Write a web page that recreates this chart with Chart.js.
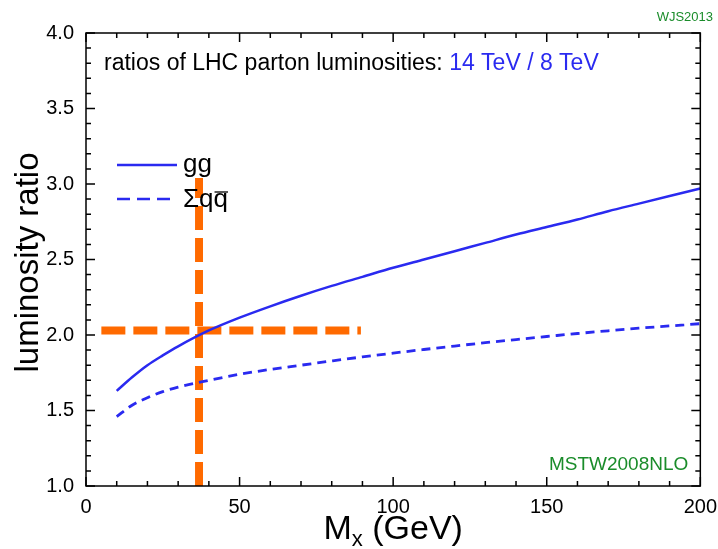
<!DOCTYPE html>
<html>
<head>
<meta charset="utf-8">
<title>LHC parton luminosity ratios</title>
<script src="https://cdn.jsdelivr.net/npm/chart.js@4"></script>
<style>
  html, body { margin: 0; padding: 0; background: #fff; }
  #wrap { width: 718px; height: 549px; }
</style>
</head>
<body>
<div id="wrap"><canvas id="lumiChart" width="718" height="549"></canvas></div>
<script>
const massGeV = [10, 15, 20, 25, 30, 40, 50, 60, 70, 80, 90, 100, 110, 120, 130, 140, 150, 160, 170, 180, 190, 200];
// gg luminosity ratio 14 TeV / 8 TeV
const ggRatio = [1.63, 1.72, 1.80, 1.865, 1.925, 2.03, 2.115, 2.19, 2.26, 2.325, 2.385, 2.445, 2.50, 2.555, 2.61, 2.665, 2.715, 2.765, 2.82, 2.87, 2.92, 2.97];
// sum of q-qbar luminosity ratio 14 TeV / 8 TeV
const qqRatio = [1.46, 1.535, 1.585, 1.625, 1.655, 1.70, 1.74, 1.772, 1.80, 1.828, 1.855, 1.88, 1.904, 1.927, 1.949, 1.97, 1.99, 2.01, 2.028, 2.045, 2.06, 2.075];

// orange guide lines (vertical at M_x ~ 37 GeV, horizontal at ratio ~ 2.03)
const guideVertX = [36.8, 36.8];
const guideVertY = [1.0, 3.04];
const guideHorzX = [5, 89.5];
const guideHorzY = [2.03, 2.03];

const xTicks = [0, 50, 100, 150, 200];
const yTicks = [1.0, 1.5, 2.0, 2.5, 3.0, 3.5, 4.0];

const FONT = '"Liberation Sans", Arial, Helvetica, sans-serif';
const BLUE = '#2a2af0';
const ORANGE = '#ff6a00';
const GREEN = '#1a8c2a';

function toPoints(xs, ys) {
    return xs.map(function(x, i) { return { x: x, y: ys[i] }; });
}

// Frame, inward ticks, legend, labels
const decorations = {
    id: 'decorations',
    afterDraw(chart) {
        const ctx = chart.ctx;
        const area = chart.chartArea;
        const xs = chart.scales.x;
        const ys = chart.scales.y;

        ctx.save();
        ctx.strokeStyle = '#000';
        ctx.lineWidth = 1.5;
        ctx.strokeRect(area.left, area.top, area.right - area.left, area.bottom - area.top);

        // ticks on all four sides pointing inward
        ctx.beginPath();
        for (let v = 0; v <= 200; v += 10) {
            const px = xs.getPixelForValue(v);
            const len = (v % 50 === 0) ? 9 : 5;
            ctx.moveTo(px, area.bottom); ctx.lineTo(px, area.bottom - len);
            ctx.moveTo(px, area.top); ctx.lineTo(px, area.top + len);
        }
        for (let k = 10; k <= 40; k++) {
            const py = ys.getPixelForValue(k / 10);
            const len = (k % 5 === 0) ? 9 : 5;
            ctx.moveTo(area.left, py); ctx.lineTo(area.left + len, py);
            ctx.moveTo(area.right, py); ctx.lineTo(area.right - len, py);
        }
        ctx.stroke();

        // title inside plot
        ctx.textBaseline = 'alphabetic';
        ctx.textAlign = 'left';
        ctx.font = '23px ' + FONT;
        const titleA = 'ratios of LHC parton luminosities: ';
        const tx = area.left + 18;
        const ty = 70;
        ctx.fillStyle = '#000';
        ctx.fillText(titleA, tx, ty);
        ctx.fillStyle = BLUE;
        ctx.fillText('14 TeV / 8 TeV', tx + ctx.measureText(titleA).width, ty);

        // legend
        const lx0 = area.left + 31;
        const lx1 = area.left + 91;
        const row1 = 165;
        const row2 = 199;
        ctx.strokeStyle = BLUE;
        ctx.lineWidth = 2.5;
        ctx.beginPath();
        ctx.moveTo(lx0, row1); ctx.lineTo(lx1, row1);
        ctx.stroke();
        ctx.setLineDash([13, 7]);
        ctx.beginPath();
        ctx.moveTo(lx0, row2); ctx.lineTo(lx1, row2);
        ctx.stroke();
        ctx.setLineDash([]);

        ctx.fillStyle = '#000';
        ctx.font = '26px ' + FONT;
        const ltx = lx1 + 6;
        ctx.fillText('gg', ltx, row1 + 7);
        const s1 = 'Σq';
        ctx.fillText(s1 + 'q', ltx, row2 + 8);
        const qStart = ltx + ctx.measureText(s1).width;
        const qW = ctx.measureText('q').width;
        ctx.strokeStyle = '#000';
        ctx.lineWidth = 1.3;
        ctx.beginPath();
        ctx.moveTo(qStart + 1, row2 - 7);
        ctx.lineTo(qStart + qW, row2 - 7);
        ctx.stroke();

        // small green labels
        ctx.fillStyle = GREEN;
        ctx.font = '13px ' + FONT;
        ctx.textAlign = 'right';
        ctx.fillText('WJS2013', 713, 21);
        ctx.font = '19px ' + FONT;
        ctx.fillText('MSTW2008NLO', area.right - 12, ys.getPixelForValue(1.15) + 7);

        // axis titles
        ctx.fillStyle = '#000';
        ctx.font = '33px ' + FONT;
        ctx.textAlign = 'center';
        ctx.save();
        ctx.translate(38, (area.top + area.bottom) / 2 + 3);
        ctx.rotate(-Math.PI / 2);
        ctx.fillText('luminosity ratio', 0, 0);
        ctx.restore();

        const xm = 'M';
        const xrest = ' (GeV)';
        ctx.font = '34px ' + FONT;
        const wM = ctx.measureText(xm).width;
        const wR = ctx.measureText(xrest).width;
        ctx.font = '22px ' + FONT;
        const wSub = ctx.measureText('x').width;
        const total = wM + wSub + wR;
        let cx = (area.left + area.right) / 2 - total / 2;
        const by = 539;
        ctx.textAlign = 'left';
        ctx.font = '34px ' + FONT;
        ctx.fillText(xm, cx, by);
        cx += wM;
        ctx.font = '22px ' + FONT;
        ctx.fillText('x', cx, by + 7);
        cx += wSub;
        ctx.font = '34px ' + FONT;
        ctx.fillText(xrest, cx, by);
        ctx.restore();
    }
};

const ctx = document.getElementById('lumiChart').getContext('2d');
const lumiChart = new Chart(ctx, {
    type: 'scatter',
    data: {
        datasets: [
            {
                label: 'gg',
                data: toPoints(massGeV, ggRatio),
                showLine: true,
                borderColor: BLUE,
                borderWidth: 2.5,
                pointRadius: 0,
                cubicInterpolationMode: 'monotone',
                order: 0
            },
            {
                label: 'qqbar',
                data: toPoints(massGeV, qqRatio),
                showLine: true,
                borderColor: BLUE,
                borderWidth: 2.8,
                borderDash: [9, 6],
                pointRadius: 0,
                cubicInterpolationMode: 'monotone',
                order: 0
            },
            {
                label: 'guide vertical',
                data: toPoints(guideVertX, guideVertY),
                showLine: true,
                borderColor: ORANGE,
                borderWidth: 8,
                borderDash: [24, 8],
                borderCapStyle: 'butt',
                pointRadius: 0,
                order: 1
            },
            {
                label: 'guide horizontal',
                data: toPoints(guideHorzX, guideHorzY),
                showLine: true,
                borderColor: ORANGE,
                borderWidth: 8,
                borderDash: [24, 8],
                borderCapStyle: 'butt',
                pointRadius: 0,
                order: 1
            }
        ]
    },
    options: {
        responsive: false,
        animation: false,
        layout: { autoPadding: false, padding: { top: 33, right: 16, left: 0, bottom: 0 } },
        plugins: {
            legend: { display: false },
            tooltip: { enabled: false }
        },
        scales: {
            x: {
                type: 'linear',
                min: 0,
                max: 200,
                afterFit: function(scale) { scale.height = 63; },
                afterBuildTicks: function(scale) {
                    scale.ticks = xTicks.map(function(v) { return { value: v }; });
                },
                grid: { display: false },
                border: { display: false },
                ticks: {
                    color: '#000',
                    padding: 1,
                    maxRotation: 0,
                    font: { family: FONT, size: 20 }
                }
            },
            y: {
                type: 'linear',
                min: 1,
                max: 4,
                afterFit: function(scale) { scale.width = 86; },
                afterBuildTicks: function(scale) {
                    scale.ticks = yTicks.map(function(v) { return { value: v }; });
                },
                grid: { display: false },
                border: { display: false },
                ticks: {
                    color: '#000',
                    padding: 4,
                    font: { family: FONT, size: 20 },
                    callback: function(v) { return v.toFixed(1); }
                }
            }
        }
    },
    plugins: [decorations]
});
</script>
</body>
</html>
